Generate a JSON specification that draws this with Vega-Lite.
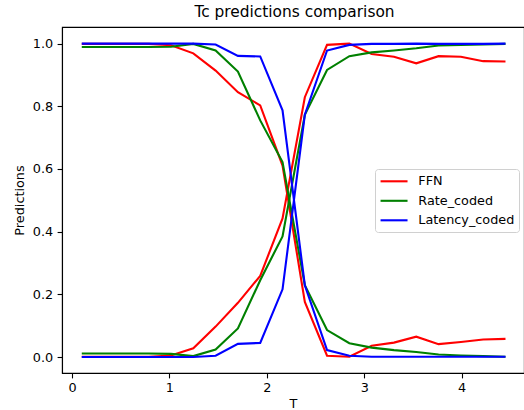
{
  "$schema": "https://vega.github.io/schema/vega-lite/v6.json",
  "autosize": {"type": "none"},
  "padding": {"left": 62, "top": 27, "right": 0, "bottom": 37},
  "width": 462,
  "height": 346,
  "background": "white",
  "title": {"text": "Tc predictions comparison", "font": "DejaVu Sans", "fontSize": 15.4, "fontWeight": "normal", "color": "black", "offset": 7, "anchor": "middle", "dx": 1.5},
  "config": {
    "view": {"stroke": "black", "strokeWidth": 1.1},
    "axis": {"grid": false, "domainColor": "black", "domainWidth": 1.1, "tickColor": "black", "tickWidth": 1.1, "tickSize": 4.9, "labelFont": "DejaVu Sans", "labelFontSize": 12.8, "labelColor": "black", "titleFont": "DejaVu Sans", "titleFontSize": 12.8, "titleFontWeight": "normal", "titleColor": "black"}
  },
  "data": {"values": [
    {"T":0.1,"y":0.999,"model":"FFN","branch":"hi"},{"T":0.329,"y":0.999,"model":"FFN","branch":"hi"},{"T":0.558,"y":0.999,"model":"FFN","branch":"hi"},{"T":0.787,"y":0.999,"model":"FFN","branch":"hi"},{"T":1.016,"y":0.995,"model":"FFN","branch":"hi"},{"T":1.245,"y":0.969,"model":"FFN","branch":"hi"},{"T":1.474,"y":0.914,"model":"FFN","branch":"hi"},{"T":1.703,"y":0.845,"model":"FFN","branch":"hi"},{"T":1.932,"y":0.803,"model":"FFN","branch":"hi"},{"T":2.161,"y":0.611,"model":"FFN","branch":"hi"},{"T":2.39,"y":0.176,"model":"FFN","branch":"hi"},{"T":2.618,"y":0.004,"model":"FFN","branch":"hi"},{"T":2.847,"y":0.001,"model":"FFN","branch":"hi"},{"T":3.076,"y":0.036,"model":"FFN","branch":"hi"},{"T":3.305,"y":0.046,"model":"FFN","branch":"hi"},{"T":3.534,"y":0.065,"model":"FFN","branch":"hi"},{"T":3.763,"y":0.041,"model":"FFN","branch":"hi"},{"T":3.992,"y":0.048,"model":"FFN","branch":"hi"},{"T":4.221,"y":0.056,"model":"FFN","branch":"hi"},{"T":4.45,"y":0.058,"model":"FFN","branch":"hi"},
    {"T":0.1,"y":0.001,"model":"FFN","branch":"lo"},{"T":0.329,"y":0.001,"model":"FFN","branch":"lo"},{"T":0.558,"y":0.001,"model":"FFN","branch":"lo"},{"T":0.787,"y":0.001,"model":"FFN","branch":"lo"},{"T":1.016,"y":0.005,"model":"FFN","branch":"lo"},{"T":1.245,"y":0.028,"model":"FFN","branch":"lo"},{"T":1.474,"y":0.097,"model":"FFN","branch":"lo"},{"T":1.703,"y":0.173,"model":"FFN","branch":"lo"},{"T":1.932,"y":0.259,"model":"FFN","branch":"lo"},{"T":2.161,"y":0.442,"model":"FFN","branch":"lo"},{"T":2.39,"y":0.829,"model":"FFN","branch":"lo"},{"T":2.618,"y":0.996,"model":"FFN","branch":"lo"},{"T":2.847,"y":1.0,"model":"FFN","branch":"lo"},{"T":3.076,"y":0.967,"model":"FFN","branch":"lo"},{"T":3.305,"y":0.958,"model":"FFN","branch":"lo"},{"T":3.534,"y":0.937,"model":"FFN","branch":"lo"},{"T":3.763,"y":0.96,"model":"FFN","branch":"lo"},{"T":3.992,"y":0.958,"model":"FFN","branch":"lo"},{"T":4.221,"y":0.944,"model":"FFN","branch":"lo"},{"T":4.45,"y":0.943,"model":"FFN","branch":"lo"},
    {"T":0.1,"y":0.989,"model":"Rate_coded","branch":"hi"},{"T":0.329,"y":0.989,"model":"Rate_coded","branch":"hi"},{"T":0.558,"y":0.989,"model":"Rate_coded","branch":"hi"},{"T":0.787,"y":0.989,"model":"Rate_coded","branch":"hi"},{"T":1.016,"y":0.99,"model":"Rate_coded","branch":"hi"},{"T":1.245,"y":0.999,"model":"Rate_coded","branch":"hi"},{"T":1.474,"y":0.978,"model":"Rate_coded","branch":"hi"},{"T":1.703,"y":0.911,"model":"Rate_coded","branch":"hi"},{"T":1.932,"y":0.755,"model":"Rate_coded","branch":"hi"},{"T":2.161,"y":0.622,"model":"Rate_coded","branch":"hi"},{"T":2.39,"y":0.229,"model":"Rate_coded","branch":"hi"},{"T":2.618,"y":0.086,"model":"Rate_coded","branch":"hi"},{"T":2.847,"y":0.044,"model":"Rate_coded","branch":"hi"},{"T":3.076,"y":0.03,"model":"Rate_coded","branch":"hi"},{"T":3.305,"y":0.022,"model":"Rate_coded","branch":"hi"},{"T":3.534,"y":0.016,"model":"Rate_coded","branch":"hi"},{"T":3.763,"y":0.008,"model":"Rate_coded","branch":"hi"},{"T":3.992,"y":0.005,"model":"Rate_coded","branch":"hi"},{"T":4.221,"y":0.003,"model":"Rate_coded","branch":"hi"},{"T":4.45,"y":0.001,"model":"Rate_coded","branch":"hi"},
    {"T":0.1,"y":0.011,"model":"Rate_coded","branch":"lo"},{"T":0.329,"y":0.011,"model":"Rate_coded","branch":"lo"},{"T":0.558,"y":0.011,"model":"Rate_coded","branch":"lo"},{"T":0.787,"y":0.011,"model":"Rate_coded","branch":"lo"},{"T":1.016,"y":0.01,"model":"Rate_coded","branch":"lo"},{"T":1.245,"y":0.003,"model":"Rate_coded","branch":"lo"},{"T":1.474,"y":0.024,"model":"Rate_coded","branch":"lo"},{"T":1.703,"y":0.091,"model":"Rate_coded","branch":"lo"},{"T":1.932,"y":0.245,"model":"Rate_coded","branch":"lo"},{"T":2.161,"y":0.385,"model":"Rate_coded","branch":"lo"},{"T":2.39,"y":0.773,"model":"Rate_coded","branch":"lo"},{"T":2.618,"y":0.916,"model":"Rate_coded","branch":"lo"},{"T":2.847,"y":0.96,"model":"Rate_coded","branch":"lo"},{"T":3.076,"y":0.972,"model":"Rate_coded","branch":"lo"},{"T":3.305,"y":0.978,"model":"Rate_coded","branch":"lo"},{"T":3.534,"y":0.985,"model":"Rate_coded","branch":"lo"},{"T":3.763,"y":0.994,"model":"Rate_coded","branch":"lo"},{"T":3.992,"y":0.996,"model":"Rate_coded","branch":"lo"},{"T":4.221,"y":0.997,"model":"Rate_coded","branch":"lo"},{"T":4.45,"y":0.999,"model":"Rate_coded","branch":"lo"},
    {"T":0.1,"y":1.0,"model":"Latency_coded","branch":"hi"},{"T":0.329,"y":1.0,"model":"Latency_coded","branch":"hi"},{"T":0.558,"y":1.0,"model":"Latency_coded","branch":"hi"},{"T":0.787,"y":1.0,"model":"Latency_coded","branch":"hi"},{"T":1.016,"y":1.0,"model":"Latency_coded","branch":"hi"},{"T":1.245,"y":1.0,"model":"Latency_coded","branch":"hi"},{"T":1.474,"y":0.997,"model":"Latency_coded","branch":"hi"},{"T":1.703,"y":0.961,"model":"Latency_coded","branch":"hi"},{"T":1.932,"y":0.959,"model":"Latency_coded","branch":"hi"},{"T":2.161,"y":0.787,"model":"Latency_coded","branch":"hi"},{"T":2.39,"y":0.229,"model":"Latency_coded","branch":"hi"},{"T":2.618,"y":0.022,"model":"Latency_coded","branch":"hi"},{"T":2.847,"y":0.004,"model":"Latency_coded","branch":"hi"},{"T":3.076,"y":0.001,"model":"Latency_coded","branch":"hi"},{"T":3.305,"y":0.001,"model":"Latency_coded","branch":"hi"},{"T":3.534,"y":0.001,"model":"Latency_coded","branch":"hi"},{"T":3.763,"y":0.001,"model":"Latency_coded","branch":"hi"},{"T":3.992,"y":0.001,"model":"Latency_coded","branch":"hi"},{"T":4.221,"y":0.001,"model":"Latency_coded","branch":"hi"},{"T":4.45,"y":0.001,"model":"Latency_coded","branch":"hi"},
    {"T":0.1,"y":0.0,"model":"Latency_coded","branch":"lo"},{"T":0.329,"y":0.0,"model":"Latency_coded","branch":"lo"},{"T":0.558,"y":0.0,"model":"Latency_coded","branch":"lo"},{"T":0.787,"y":0.0,"model":"Latency_coded","branch":"lo"},{"T":1.016,"y":0.0,"model":"Latency_coded","branch":"lo"},{"T":1.245,"y":0.0,"model":"Latency_coded","branch":"lo"},{"T":1.474,"y":0.004,"model":"Latency_coded","branch":"lo"},{"T":1.703,"y":0.042,"model":"Latency_coded","branch":"lo"},{"T":1.932,"y":0.045,"model":"Latency_coded","branch":"lo"},{"T":2.161,"y":0.216,"model":"Latency_coded","branch":"lo"},{"T":2.39,"y":0.773,"model":"Latency_coded","branch":"lo"},{"T":2.618,"y":0.978,"model":"Latency_coded","branch":"lo"},{"T":2.847,"y":0.996,"model":"Latency_coded","branch":"lo"},{"T":3.076,"y":0.999,"model":"Latency_coded","branch":"lo"},{"T":3.305,"y":0.999,"model":"Latency_coded","branch":"lo"},{"T":3.534,"y":1.0,"model":"Latency_coded","branch":"lo"},{"T":3.763,"y":0.999,"model":"Latency_coded","branch":"lo"},{"T":3.992,"y":0.999,"model":"Latency_coded","branch":"lo"},{"T":4.221,"y":0.999,"model":"Latency_coded","branch":"lo"},{"T":4.45,"y":1.0,"model":"Latency_coded","branch":"lo"}
  ]},
  "mark": {"type": "line", "strokeWidth": 2.1, "clip": true},
  "encoding": {
    "x": {"field": "T", "type": "quantitative", "scale": {"domain": [-0.103, 4.64], "nice": false, "zero": false}, "axis": {"values": [0, 1, 2, 3, 4], "format": "d", "title": "T", "labelPadding": 3.5, "titlePadding": 3}},
    "y": {"field": "y", "type": "quantitative", "scale": {"domain": [-0.051, 1.053], "nice": false, "zero": false}, "axis": {"values": [0, 0.2, 0.4, 0.6, 0.8, 1.0], "format": ".1f", "title": "Predictions", "labelPadding": 4.4, "titlePadding": 6}},
    "color": {"field": "model", "type": "nominal", "sort": ["FFN", "Rate_coded", "Latency_coded"],
      "scale": {"domain": ["FFN", "Rate_coded", "Latency_coded"], "range": ["#ff0000", "#008000", "#0000ff"]},
      "legend": {"title": null, "orient": "none", "legendX": 313, "legendY": 142, "symbolType": "M-1,0H3", "symbolSize": 182, "symbolStrokeWidth": 2.1, "labelFont": "DejaVu Sans", "labelFontSize": 12.8, "labelColor": "black", "labelOffset": 23, "rowPadding": 4.5, "padding": 4.3, "strokeColor": "#d0d0d0", "fillColor": "rgba(255,255,255,0.8)", "cornerRadius": 3}},
    "detail": {"field": "branch", "type": "nominal"}
  }
}
